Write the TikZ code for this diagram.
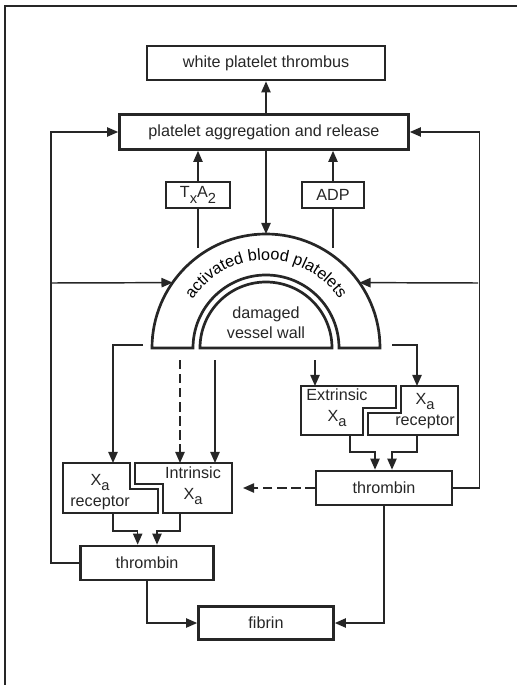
\documentclass[tikz,border=0pt]{standalone}
\usepackage{fontspec}
\setmainfont{Liberation Sans}
\usetikzlibrary{arrows.meta,decorations.text}
\definecolor{inkgray}{RGB}{38,38,38}
\newcommand\boxfont{\fontsize{13.8}{18}\selectfont}
\newcommand\lsub[1]{\raisebox{-0.32em}{\fontsize{12.5}{12.5}\selectfont #1}}

\begin{document}
\begin{tikzpicture}[x=0.03cm, y=0.03cm, inkgray,
    blk/.style={draw, line width=2.3pt, inner sep=0pt, font=\boxfont},
    dims/.style 2 args={minimum width=#1*0.03cm, minimum height=#2*0.03cm},
    piece/.style={draw, line width=2.3pt, line join=miter},
    txt/.style={font=\boxfont, align=center, inner sep=0pt},
    conn/.style={line width=1.25pt},
    arr/.style={conn, -{Triangle[length=9.5pt, width=8pt]}},
    dsh/.style={dash pattern=on 8pt off 4pt}]
    \useasboundingbox (0,0) rectangle (517,-685);
    % page frame
    \draw[line width=1.9pt] (5,-685) -- (5,-6) -- (517,-6);

    % top boxes
    \node[blk, dims={238}{34}] (wpt) at (266,-63) {white platelet thrombus};
    \node[blk, dims={289}{35}] (agg) at (264,-132) {platelet aggregation and release};
    \node[blk, dims={64}{26}] (txa) at (198,-195) {T\lsub{x}A\lsub{2}};
    \node[blk, dims={62}{26}] (adp) at (333,-195) {ADP};

    % activated platelets around the damaged wall
    \coordinate (pc) at (266,-348);
    \draw[piece] ([shift={(-114,0)}]pc) arc[start angle=180, end angle=0, radius=114]
        -- ++(-41,0) arc[start angle=0, end angle=180, radius=73] -- cycle;
    \draw[piece] ([shift={(-66,0)}]pc) arc[start angle=180, end angle=0, radius=66] -- cycle;
    \path[decorate, decoration={text along path, text align=center,
        text={|\boxfont|activated blood platelets}}]
        ([shift={(-88,0)}]pc) arc[start angle=180, end angle=0, radius=88];
    \node[txt, font=\fontsize{13.8}{17}\selectfont] (dvw) at (266,-323) {damaged\\vessel wall};
    \coordinate (ptop) at ([shift={(90:114)}]pc);
    \coordinate (pltL) at ([shift={(145:114)}]pc);
    \coordinate (pltR) at ([shift={(35:114)}]pc);

    % factor X pieces
    \draw[piece] (63,-463) -- (130,-463) -- (130,-489) -- (158,-489) -- (158,-513) -- (63,-513) -- cycle;
    \draw[piece] (135,-463) -- (232,-463) -- (232,-513) -- (163,-513) -- (163,-484) -- (135,-484) -- cycle;
    \draw[piece] (301,-386) -- (396,-386) -- (396,-408) -- (363,-408) -- (363,-435) -- (301,-435) -- cycle;
    \draw[piece] (401,-386) -- (458,-386) -- (458,-435) -- (368,-435) -- (368,-413) -- (401,-413) -- cycle;
    \node[txt] (xrLt) at (100,-492) {X\lsub{a}\\receptor};
    \node[txt] (inXt) at (193,-486) {Intrinsic\\X\lsub{a}};
    \node[txt] (exXt) at (337,-408) {Extrinsic\\X\lsub{a}};
    \node[txt] (xrRt) at (425,-411) {X\lsub{a}\\receptor};

    % lower boxes
    \node[blk, dims={133}{34}] (thL) at (147,-563) {thrombin};
    \node[blk, dims={136}{34}] (thR) at (384,-488) {thrombin};
    \node[blk, dims={135}{33}] (fib) at (266,-623) {fibrin};

    % connector ends
    \coordinate (ftL) at (143,-345);
    \coordinate (ftR) at (392,-345);
    \coordinate (dshS) at (180,-360);
    \coordinate (solS) at (215,-360);
    \coordinate (extS) at (315,-360);
    \coordinate (xrLn) at (113,-463);
    \coordinate (inXn1) at (180,-463);
    \coordinate (inXn2) at (215,-463);
    \coordinate (exXn) at (315,-386);
    \coordinate (xrRn) at (417,-386);
    \coordinate (xrLs) at (113,-513);
    \coordinate (inXs) at (180,-513);
    \coordinate (exXs) at (350,-435);
    \coordinate (xrRs) at (417,-435);
    \coordinate (jL) at (52,-283);
    \coordinate (jR) at (478,-283);
    \coordinate (dEnd) at (243,-488);

    % upper connectors
    \draw[arr] (wpt.south |- agg.north) -- (wpt.south);
    \draw[arr] (txa.north) -- (txa.north |- agg.south);
    \draw[arr] (adp.north) -- (adp.north |- agg.south);
    \draw[arr] (wpt.south |- agg.south) -- (ptop);
    \draw[conn] (txa.south) -- ++(0,-39);
    \draw[conn] (adp.south) -- ++(0,-39);

    % feedback loops
    \draw[arr] (thL.west) -- ++(-28,0) |- (agg.west);
    \draw[arr] (thR.east) -- ++(26,0) |- (agg.east);
    \draw[arr] (jL) -- (pltL);
    \draw[arr] (jR) -- (pltR);

    % into the X pieces
    \draw[arr] (ftL) -| (xrLn);
    \draw[arr, dsh] (dshS) -- (inXn1);
    \draw[arr] (solS) -- (inXn2);
    \draw[arr] (extS) -- (exXn);
    \draw[arr] (ftR) -| (xrRn);

    % to thrombin and fibrin
    \draw[arr] (xrLs) -- ++(0,-18) -| ([xshift=-0.28cm]thL.north);
    \draw[arr] (inXs) -- ++(0,-18) -| ([xshift=0.3cm]thL.north);
    \draw[arr] (exXs) -- ++(0,-17) -| ([xshift=-0.27cm]thR.north);
    \draw[arr] (xrRs) -- ++(0,-17) -| ([xshift=0.24cm]thR.north);
    \draw[arr, dsh] (thR.west) -- (dEnd);
    \draw[arr] (thL.south) |- (fib.west);
    \draw[arr] (thR.south) |- (fib.east);
\end{tikzpicture}
\end{document}
